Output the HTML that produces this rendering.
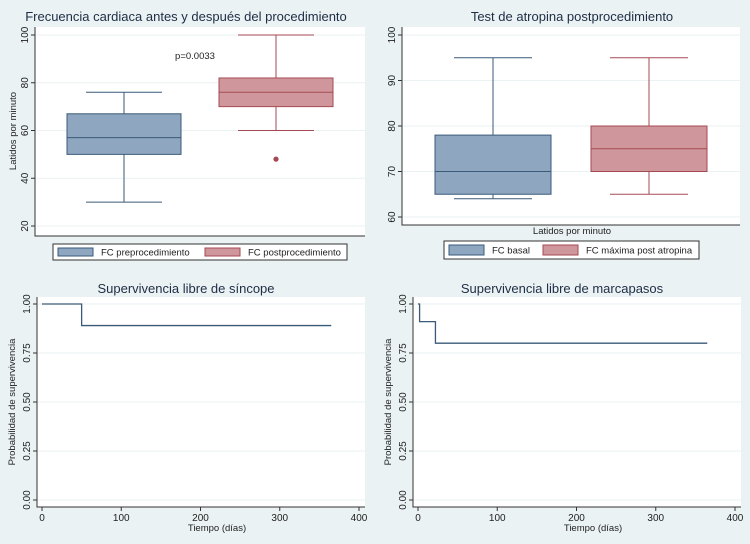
<!DOCTYPE html>
<html><head><meta charset="utf-8"><style>
body{margin:0;background:#eaf2f3;}
svg{display:block;font-family:"Liberation Sans",sans-serif;}
</style></head><body>
<svg id="c" width="750" height="544" viewBox="0 0 750 544">
<rect x="0" y="0" width="750" height="544" fill="#eaf2f3"/>
</svg>
<script>
// Panel 1 data: heart rate before/after procedure
const p1Series = ["FC preprocedimiento","FC postprocedimiento"];
const p1Min = [30, 60];
const p1Q1 = [50, 70];
const p1Med = [57, 76];
const p1Q3 = [67, 82];
const p1Max = [76, 100];
const p1Outliers = [[], [48]];
const p1Ticks = [20, 40, 60, 80, 100];
// Panel 2 data: atropine test
const p2Series = ["FC basal","FC máxima post atropina"];
const p2Min = [64, 65];
const p2Q1 = [65, 70];
const p2Med = [70, 75];
const p2Q3 = [78, 80];
const p2Max = [95, 95];
const p2Ticks = [60, 70, 80, 90, 100];
// Panel 3: syncope-free survival
const km1Times = [0, 50, 365];
const km1Surv = [1.0, 0.89, 0.89];
// Panel 4: pacemaker-free survival
const km2Times = [0, 2, 22, 365];
const km2Surv = [1.0, 0.91, 0.80, 0.80];
const kmYTicks = [0, 0.25, 0.5, 0.75, 1.0];
const kmXTicks = [0, 100, 200, 300, 400];

const NS = "http://www.w3.org/2000/svg";
const svg = document.getElementById("c");
function el(tag, attrs, parent, text){
  const e = document.createElementNS(NS, tag);
  for (const k in attrs) e.setAttribute(k, attrs[k]);
  if (text !== undefined) e.textContent = text;
  (parent || svg).appendChild(e);
  return e;
}
const BLUE_F="#8ea6bf", BLUE_S="#3a5a78", RED_F="#cf979c", RED_S="#a54a55", TXT="#1e2d45";

function plotArea(x0,y0,x1,y1,name){
  const r = el("rect",{x:x0,y:y0,width:x1-x0,height:y1-y0,fill:"#ffffff"});
  
  
  const ax = el("path",{d:`M${x0} ${y0} V${y1} H${x1}`,stroke:"#333",fill:"none","stroke-width":1});
  
  
}
function title(x,y,t,name,size){
  const e = el("text",{x:x,y:y,"text-anchor":"middle","font-size":size||13,fill:TXT},null,t);
  
  
}
function yTicks(ticks, yf, xAxis, x0, x1, fmt, name){
  ticks.forEach(v=>{
    const y = yf(v);
    const g = el("line",{x1:x0+1,x2:x1,y1:y,y2:y,stroke:"#eaf2f3","stroke-width":1});
    
    
    const t = el("line",{x1:xAxis-4,x2:xAxis,y1:y,y2:y,stroke:"#333"});
    
    
    const lab = el("text",{x:xAxis-7,y:y,"font-size":10,"text-anchor":"middle",fill:"#222",transform:`rotate(-90 ${xAxis-7} ${y})`},null,fmt(v));
    
    
  });
}
function yTitle(x,y,t,name){
  const e = el("text",{x:x,y:y,"font-size":9.5,"text-anchor":"middle",fill:"#222",transform:`rotate(-90 ${x} ${y})`},null,t);
  
  
}
function box(cx,w,capw,yf,mn,q1,md,q3,mx,fill,stroke,name){
  const g = el("g",{});
  
  
  el("line",{x1:cx,x2:cx,y1:yf(mx),y2:yf(q3),stroke:stroke},g);
  el("line",{x1:cx,x2:cx,y1:yf(q1),y2:yf(mn),stroke:stroke},g);
  el("line",{x1:cx-capw/2,x2:cx+capw/2,y1:yf(mx),y2:yf(mx),stroke:stroke},g);
  el("line",{x1:cx-capw/2,x2:cx+capw/2,y1:yf(mn),y2:yf(mn),stroke:stroke},g);
  el("rect",{x:cx-w/2,y:yf(q3),width:w,height:yf(q1)-yf(q3),fill:fill,stroke:stroke,"stroke-width":1},g);
  el("line",{x1:cx-w/2,x2:cx+w/2,y1:yf(md),y2:yf(md),stroke:stroke},g);
}
function legend(x,y,w,h,items,name){
  const g = el("g",{});
  
  
  el("rect",{x:x,y:y,width:w,height:h,fill:"#fff",stroke:"#333"},g);
  items.forEach(it=>{
    const k = el("rect",{x:it.kx,y:y+4,width:35,height:h-8,fill:it.fill,stroke:it.stroke},g);
    
    
    const t = el("text",{x:it.kx+43,y:y+h/2+3.5,"font-size":9.5,fill:"#222"},g,it.label);
    
    
  });
}

// Panel 1
{
  const yf = v => 35 + (100 - v) * (226 - 35) / 80;
  plotArea(35,27,365,236,"plot-area-1");
  yTicks(p1Ticks, yf, 35, 35, 365, v=>String(v), "y-axis-1");
  yTitle(16,131,"Latidos por minuto","y-axis-title-1");
  title(186,21,"Frecuencia cardiaca antes y después del procedimiento","title-1");
  const cxs=[124,276], fills=[BLUE_F,RED_F], strokes=[BLUE_S,RED_S];
  p1Series.forEach((s,i)=>{
    box(cxs[i],114,76,yf,p1Min[i],p1Q1[i],p1Med[i],p1Q3[i],p1Max[i],fills[i],strokes[i],"box-"+(i+1)+"-panel-1");
    p1Outliers[i].forEach(o=>{
      const c = el("circle",{cx:cxs[i],cy:yf(o),r:2.6,fill:strokes[i]});
      
      
    });
  });
  const pv = el("text",{x:195,y:59,"font-size":9.5,"text-anchor":"middle",fill:"#222"},null,"p=0.0033");
  
  
  legend(53,244,294,16,[{kx:58,fill:BLUE_F,stroke:BLUE_S,label:p1Series[0]},{kx:205,fill:RED_F,stroke:RED_S,label:p1Series[1]}],"legend-1");
}
// Panel 2
{
  const yf = v => 35 + (100 - v) * (217 - 35) / 40;
  plotArea(402,27,740,225,"plot-area-2");
  yTicks(p2Ticks, yf, 402, 402, 740, v=>String(v), "y-axis-2");
  title(572,21,"Test de atropina postprocedimiento","title-2");
  const cxs=[493,649], fills=[BLUE_F,RED_F], strokes=[BLUE_S,RED_S];
  p2Series.forEach((s,i)=>{
    box(cxs[i],116,78,yf,p2Min[i],p2Q1[i],p2Med[i],p2Q3[i],p2Max[i],fills[i],strokes[i],"box-"+(i+1)+"-panel-2");
  });
  const xt = el("text",{x:572,y:234,"font-size":9.5,"text-anchor":"middle",fill:"#222"},null,"Latidos por minuto");
  
  
  legend(444,241,255,18,[{kx:449,fill:BLUE_F,stroke:BLUE_S,label:p2Series[0]},{kx:543,fill:RED_F,stroke:RED_S,label:p2Series[1]}],"legend-2");
}
// KM panels
function km(ox, times, surv, ttl, n){
  const xf = t => ox + 5 + t * (317 / 400);
  const yf = s => 500 - s * (196);
  plotArea(ox,297,ox+328,507,"plot-area-"+n);
  yTicks(kmYTicks, yf, ox, ox, ox+328, v=>v.toFixed(2), "y-axis-"+n);
  yTitle(ox-22,402,"Probabilidad de supervivencia","y-axis-title-"+n);
  title(ox+149,293,ttl,"title-"+n,13);
  kmXTicks.forEach(t=>{
    const x = xf(t);
    const tk = el("line",{x1:x,x2:x,y1:507,y2:511,stroke:"#333"});
    
    
    const lb = el("text",{x:x,y:521,"font-size":10,"text-anchor":"middle",fill:"#222"},null,String(t));
    
    
  });
  const xt = el("text",{x:ox+180,y:531,"font-size":9.5,"text-anchor":"middle",fill:"#222"},null,"Tiempo (días)");
  
  
  let d = `M${xf(times[0])} ${yf(surv[0])}`;
  for (let i=1;i<times.length;i++){
    d += ` H${xf(times[i])} V${yf(surv[i])}`;
  }
  const p = el("path",{d:d,fill:"none",stroke:"#3a5a78","stroke-width":1.3});
  
  
}
km(37, km1Times, km1Surv, "Supervivencia libre de síncope", 3);
km(413, km2Times, km2Surv, "Supervivencia libre de marcapasos", 4);
</script>
</body></html>
